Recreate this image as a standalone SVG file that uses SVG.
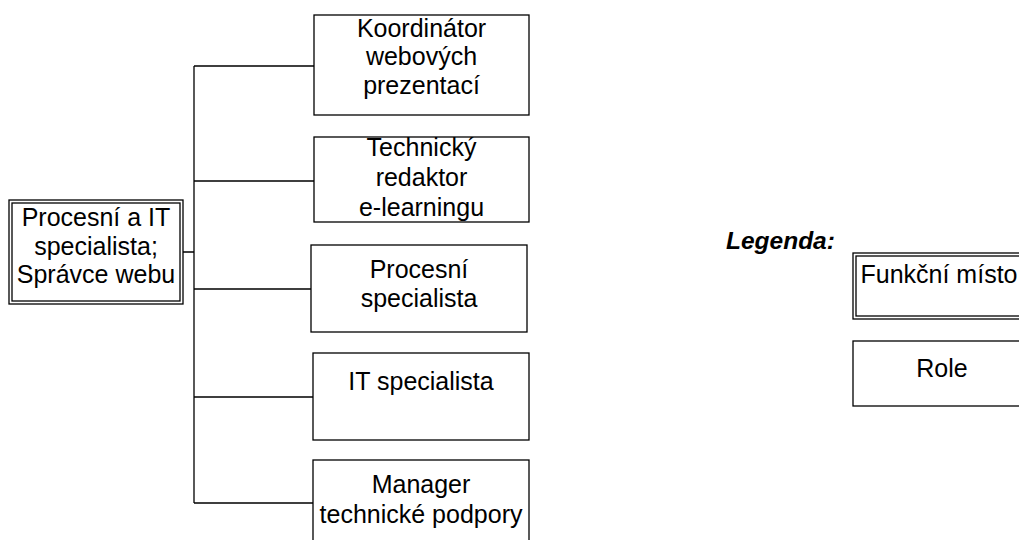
<svg xmlns="http://www.w3.org/2000/svg" width="1019" height="540" viewBox="0 0 1019 540">
  <style>
    .box { fill: #ffffff; stroke: #000000; stroke-width: 1.3; }
    .conn { fill: none; stroke: #000000; stroke-width: 1.3; }
    .lbl { font-family: "Liberation Sans", Arial, sans-serif; font-size: 25px; fill: #000000; text-anchor: middle; }
    .legend { font-family: "Liberation Sans", Arial, sans-serif; font-size: 24.5px; font-weight: bold; font-style: italic; fill: #000000; }
  </style>
  <rect width="1019" height="540" fill="#ffffff"/>

  <!-- connectors: trunk plus one branch per role -->
  <g id="connectors">
    <path class="conn" d="M183,252 H194 M194,66 V503 M194,66 H314 M194,181 H314 M194,289 H311 M194,397 H313 M194,503 H313"/>
  </g>

  <!-- functional position (double border) -->
  <g id="node-root">
    <rect class="box" x="9" y="200" width="174" height="104"/>
    <rect class="box" x="12" y="203" width="168" height="98"/>
    <text class="lbl" x="96" y="226">Procesní a IT</text>
    <text class="lbl" x="96" y="255">specialista;</text>
    <text class="lbl" x="96" y="283">Správce webu</text>
  </g>

  <g id="node-koordinator">
    <rect class="box" x="314" y="15" width="215" height="100"/>
    <text class="lbl" x="421.5" y="37">Koordinátor</text>
    <text class="lbl" x="421.5" y="65">webových</text>
    <text class="lbl" x="421.5" y="94">prezentací</text>
  </g>

  <g id="node-redaktor">
    <rect class="box" x="314" y="137" width="215" height="85"/>
    <text class="lbl" x="421.5" y="156">Technický</text>
    <text class="lbl" x="421.5" y="186">redaktor</text>
    <text class="lbl" x="421.5" y="216">e-learningu</text>
  </g>

  <g id="node-procesni">
    <rect class="box" x="311" y="245" width="216" height="87"/>
    <text class="lbl" x="419" y="278">Procesní</text>
    <text class="lbl" x="419" y="307">specialista</text>
  </g>

  <g id="node-it">
    <rect class="box" x="313" y="353" width="216" height="87"/>
    <text class="lbl" x="421" y="390">IT specialista</text>
  </g>

  <g id="node-manager">
    <rect class="box" x="313" y="460" width="216" height="100"/>
    <text class="lbl" x="421" y="493">Manager</text>
    <text class="lbl" x="421" y="523">technické podpory</text>
  </g>

  <!-- legend -->
  <g id="legend">
    <text class="legend" x="726" y="249">Legenda:</text>
    <g id="legend-funkcni">
      <rect class="box" x="853" y="253" width="180" height="66"/>
      <rect class="box" x="856" y="256" width="174" height="60"/>
      <text class="lbl" x="939" y="283">Funkční místo</text>
    </g>
    <g id="legend-role">
      <rect class="box" x="853" y="341" width="180" height="65"/>
      <text class="lbl" x="942" y="377">Role</text>
    </g>
  </g>
</svg>
